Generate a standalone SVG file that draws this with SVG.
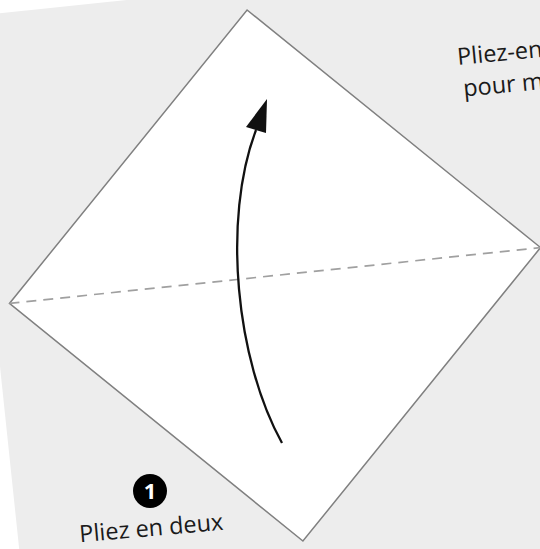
<svg xmlns="http://www.w3.org/2000/svg" width="540" height="549" viewBox="0 0 540 549">
  <style>
    .paper { fill: #ededed; }
    .sheet { fill: #ffffff; stroke: #808080; stroke-width: 1.5; stroke-linejoin: miter; }
    .fold { stroke: #a0a0a0; stroke-width: 1.7; stroke-dasharray: 10 7; fill: none; }
    .arrow { stroke: #111; stroke-width: 2.3; fill: none; }
    .lbl { font-family: "Open Sans", "Liberation Sans", sans-serif; font-size: 23.5px; fill: #1a1a1a; }
  </style>
  <rect x="0" y="0" width="540" height="549" fill="#ffffff"/>
  <g id="page" transform="rotate(-6 275 275.5)">
    <rect class="paper" x="-8" y="-14" width="720" height="720"/>
  </g>
  <g id="square" transform="rotate(-6 275 275.5)">
    <polygon class="sheet" points="275,8.5 542,275.5 275,542.5 8,275.5"/>
    <line class="fold" x1="8" y1="275.5" x2="542" y2="275.5"/>
  </g>
  <g id="connectors">
    <path class="arrow" d="M282,443 C236,360 222,220 256,130"/>
    <path d="M267,99 L246,127 L266,133 Z" fill="#111"/>
  </g>
  <g id="step-number">
    <circle cx="150" cy="491" r="17" fill="#000"/>
    <text x="150" y="499" text-anchor="middle" font-family="'Open Sans', 'Liberation Sans', sans-serif" font-weight="bold" font-size="22" fill="#fff">1</text>
  </g>
  <g id="step-label">
    <text class="lbl" x="152" y="536" text-anchor="middle" transform="rotate(-5 152 536)">Pliez en deux</text>
  </g>
  <g id="next-label">
    <text class="lbl" transform="rotate(-5.5 458 65)"><tspan x="458" y="65">Pliez-en</tspan><tspan x="461" y="97">pour m</tspan></text>
  </g>
</svg>
